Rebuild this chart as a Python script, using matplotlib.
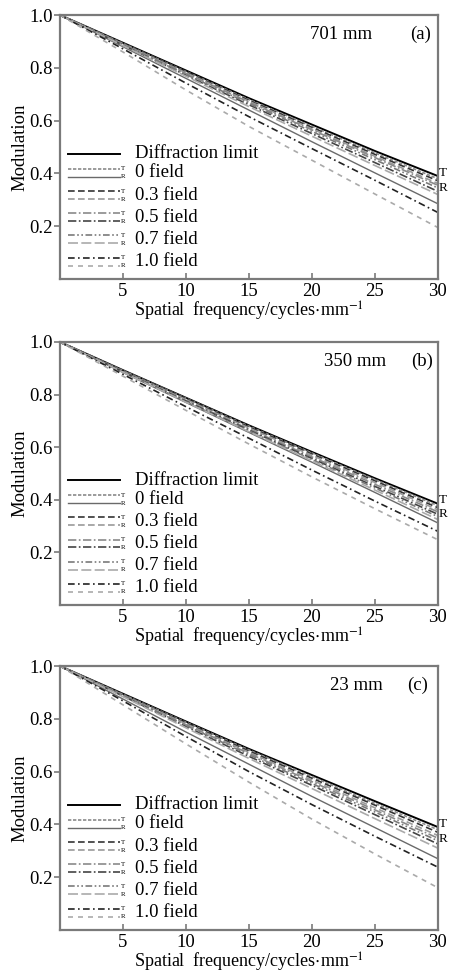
import numpy as np
import matplotlib
matplotlib.use('Agg')
import matplotlib.pyplot as plt

plt.rcParams['font.family'] = ['Liberation Serif', 'DejaVu Serif']
plt.rcParams['mathtext.fontset'] = 'stix'

# spatial frequency samples (cycles/mm)
freq = [0, 5, 10, 15, 20, 25, 30]

# legend entries: diffraction limit, then T / R for each field
field_names = ['0 field', '0.3 field', '0.5 field', '0.7 field', '1.0 field']
panel_names = ['701 mm', '350 mm', '23 mm']
panel_tags = ['(a)', '(b)', '(c)']

# modulation, order: diff, T0, R0, T0.3, R0.3, T0.5, R0.5, T0.7, R0.7, T1.0, R1.0
mtf_701 = [
    [1.00, 0.895, 0.790, 0.685, 0.585, 0.485, 0.390],
    [1.00, 0.893, 0.786, 0.680, 0.578, 0.478, 0.380],
    [1.00, 0.880, 0.760, 0.640, 0.520, 0.402, 0.285],
    [1.00, 0.892, 0.784, 0.677, 0.574, 0.472, 0.372],
    [1.00, 0.890, 0.781, 0.673, 0.569, 0.465, 0.362],
    [1.00, 0.889, 0.779, 0.670, 0.565, 0.460, 0.355],
    [1.00, 0.886, 0.772, 0.660, 0.551, 0.441, 0.332],
    [1.00, 0.887, 0.775, 0.665, 0.559, 0.452, 0.345],
    [1.00, 0.884, 0.768, 0.653, 0.541, 0.430, 0.320],
    [1.00, 0.872, 0.742, 0.615, 0.494, 0.374, 0.252],
    [1.00, 0.860, 0.716, 0.578, 0.450, 0.322, 0.195],
]
mtf_350 = [
    [1.00, 0.893, 0.788, 0.683, 0.582, 0.482, 0.385],
    [1.00, 0.892, 0.786, 0.680, 0.578, 0.477, 0.378],
    [1.00, 0.884, 0.770, 0.656, 0.543, 0.428, 0.312],
    [1.00, 0.891, 0.784, 0.677, 0.574, 0.472, 0.370],
    [1.00, 0.889, 0.781, 0.673, 0.569, 0.466, 0.362],
    [1.00, 0.888, 0.778, 0.669, 0.563, 0.459, 0.354],
    [1.00, 0.887, 0.775, 0.665, 0.557, 0.451, 0.345],
    [1.00, 0.886, 0.773, 0.662, 0.553, 0.445, 0.336],
    [1.00, 0.885, 0.771, 0.659, 0.548, 0.437, 0.325],
    [1.00, 0.877, 0.754, 0.634, 0.513, 0.395, 0.280],
    [1.00, 0.870, 0.740, 0.612, 0.487, 0.366, 0.248],
]
mtf_23 = [
    [1.00, 0.895, 0.790, 0.686, 0.587, 0.488, 0.390],
    [1.00, 0.893, 0.787, 0.682, 0.581, 0.480, 0.380],
    [1.00, 0.875, 0.750, 0.628, 0.506, 0.388, 0.270],
    [1.00, 0.892, 0.784, 0.678, 0.575, 0.473, 0.370],
    [1.00, 0.890, 0.781, 0.673, 0.568, 0.463, 0.358],
    [1.00, 0.889, 0.778, 0.669, 0.562, 0.455, 0.348],
    [1.00, 0.886, 0.771, 0.658, 0.548, 0.437, 0.326],
    [1.00, 0.888, 0.775, 0.664, 0.555, 0.447, 0.338],
    [1.00, 0.884, 0.766, 0.650, 0.536, 0.422, 0.310],
    [1.00, 0.868, 0.733, 0.600, 0.475, 0.355, 0.238],
    [1.00, 0.853, 0.705, 0.560, 0.420, 0.288, 0.160],
]
panels = [mtf_701, mtf_350, mtf_23]

# line styles in the same order as the curves
styles = [
    ('-', 'black', 1.4),
    ((0, (2, 1)), '#8a8a8a', 1.2),
    ('-', '#6a6a6a', 1.0),
    ((0, (4, 2)), '#333333', 1.2),
    ((0, (4, 2)), '#9a9a9a', 1.2),
    ((0, (5, 1.5, 1, 1.5)), '#8a8a8a', 1.2),
    ((0, (5, 1.5, 1, 1.5)), '#444444', 1.2),
    ((0, (4, 1.5, 1, 1.5, 1, 1.5)), '#7a7a7a', 1.2),
    ((0, (6, 2)), '#aaaaaa', 1.2),
    ((0, (4, 2, 1, 2)), '#222222', 1.2),
    ((0, (3, 3)), '#aaaaaa', 1.2),
]

# axes placement in figure fraction [left, bottom, width, height]
axes_rects = [
    [0.133, 0.7141, 0.838, 0.2705],
    [0.133, 0.3801, 0.838, 0.2695],
    [0.133, 0.0471, 0.838, 0.2705],
]
tag_x = [(0.745, 0.955), (0.78, 0.958), (0.785, 0.947)]

frame_col = '#7a7a7a'
fs = 13.5

fig = plt.figure(figsize=(4.51, 9.76), dpi=100)

for k, data in enumerate(panels):
    ax = fig.add_axes(axes_rects[k])
    for curve, (ls, col, lw) in zip(data, styles):
        ax.plot(freq, curve, linestyle=ls, color=col, lw=lw)

    ax.set_xlim(0, 30)
    ax.set_ylim(0, 1.0)
    ax.set_xticks([5, 10, 15, 20, 25, 30])
    ax.set_yticks([0.2, 0.4, 0.6, 0.8, 1.0])
    ax.set_yticklabels(['0.2', '0.4', '0.6', '0.8', '1.0'])
    ax.tick_params(axis='x', direction='in', length=4, width=1.2, color=frame_col,
                   labelsize=fs, pad=3)
    ax.tick_params(axis='y', direction='out', length=4, width=1.2, color=frame_col,
                   labelsize=fs, pad=1)
    for sp in ax.spines.values():
        sp.set_color(frame_col)
        sp.set_linewidth(1.6)

    ax.set_xlabel(r'Spatial  frequency/cycles$\cdot$mm$^{-1}$', fontsize=13, labelpad=0)
    ax.set_ylabel('Modulation', fontsize=fs, labelpad=1)

    ax.text(tag_x[k][0], 0.925, panel_names[k], transform=ax.transAxes,
            ha='center', va='center', fontsize=fs)
    ax.text(tag_x[k][1], 0.925, panel_tags[k], transform=ax.transAxes,
            ha='center', va='center', fontsize=fs)

    # T / R markers at right edge
    ytr = ax.get_yaxis_transform()
    ax.text(1.003, 0.40, 'T', transform=ytr, fontsize=9.5, ha='left', va='center', clip_on=False)
    ax.text(1.003, 0.345, 'R', transform=ytr, fontsize=9.5, ha='left', va='center', clip_on=False)

    # hand-made legend
    x0, x1, xt, xl = 0.021, 0.159, 0.166, 0.198
    y_diff = 0.475
    ls, col, lw = styles[0]
    ax.plot([x0, x1], [y_diff, y_diff], transform=ax.transAxes, linestyle=ls,
            color=col, lw=lw, clip_on=False)
    ax.text(xl, y_diff, 'Diffraction limit', transform=ax.transAxes,
            fontsize=fs, va='center', ha='left')
    for i, name in enumerate(field_names):
        yc = y_diff - 0.073 - 0.084 * i
        for j, (dy, letter) in enumerate([(0.015, 'T'), (-0.015, 'R')]):
            ls, col, lw = styles[1 + 2 * i + j]
            ax.plot([x0, x1], [yc + dy, yc + dy], transform=ax.transAxes,
                    linestyle=ls, color=col, lw=lw, clip_on=False)
            ax.text(xt, yc + dy, letter, transform=ax.transAxes, fontsize=5,
                    va='center', ha='center')
        ax.text(xl, yc, name, transform=ax.transAxes, fontsize=fs,
                va='center', ha='left')

fig.savefig('out.png', dpi=100)
